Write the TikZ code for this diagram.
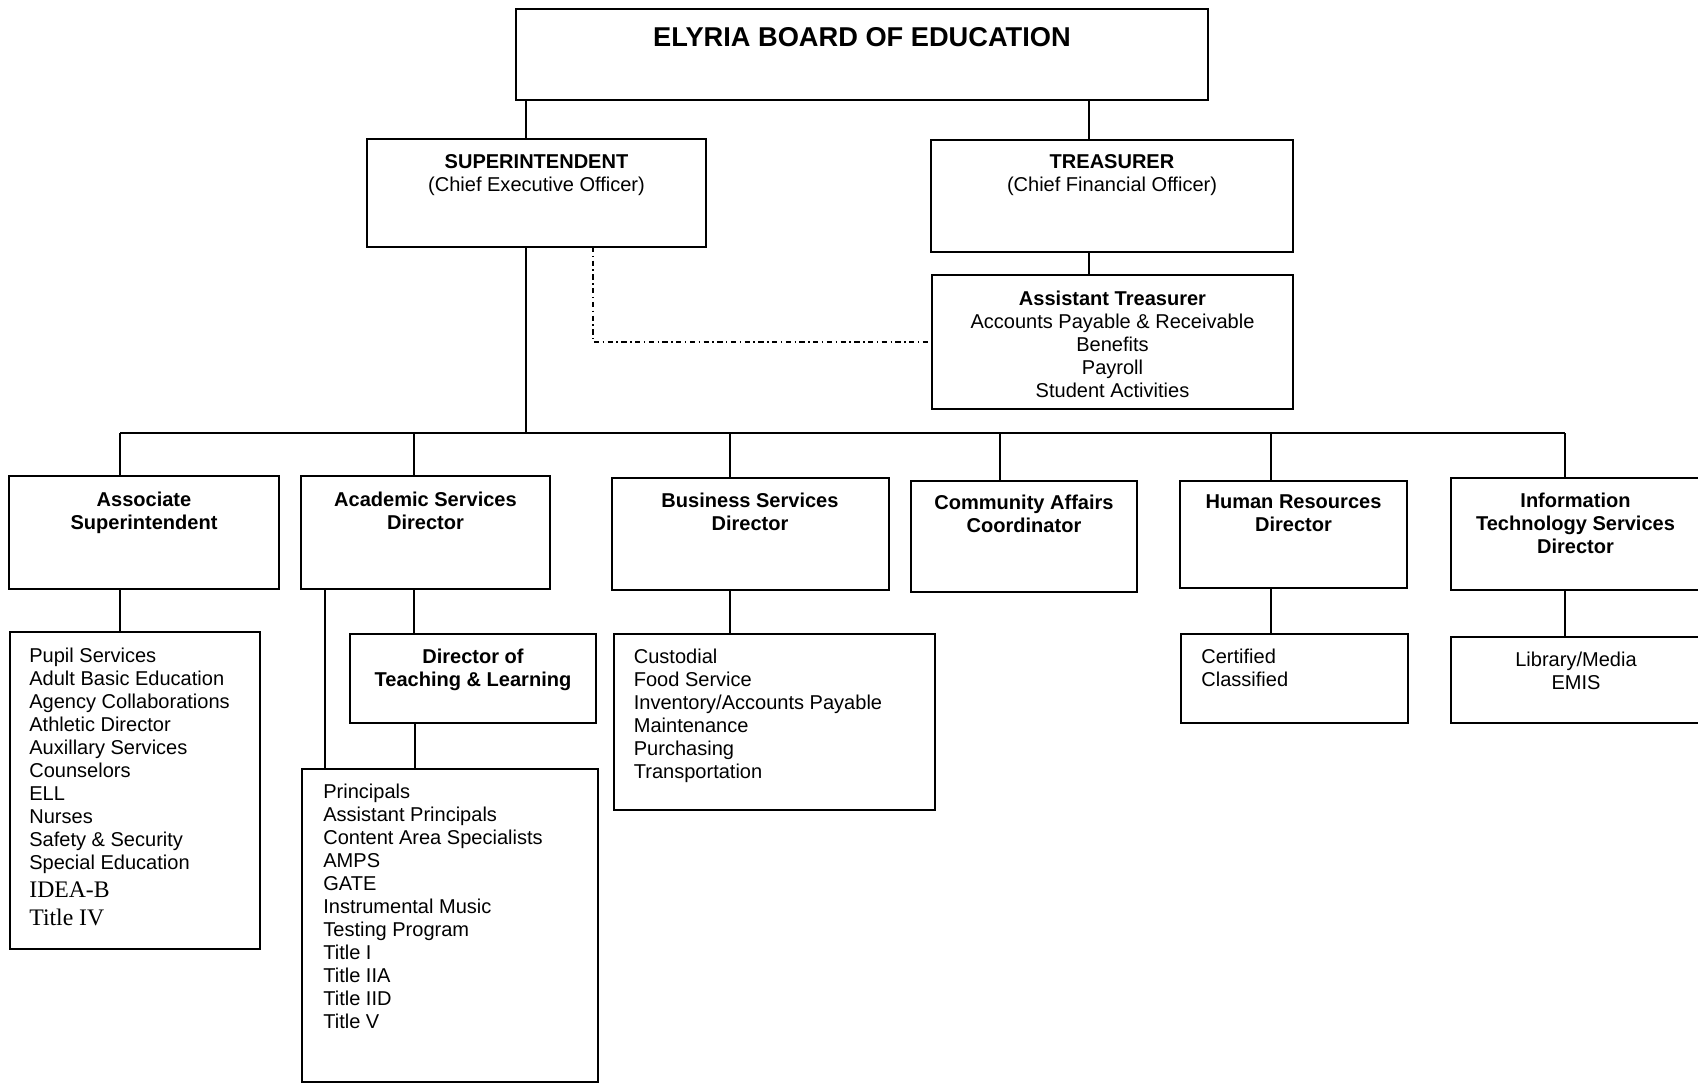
\documentclass[tikz,border=0pt]{standalone}
\usepackage{fontspec}
\setmainfont{Liberation Sans}
\newfontfamily\serifitems{Liberation Serif}
\usepackage{tikz}
\usetikzlibrary{fit,calc}

\tikzset{
  box/.style={draw,line width=1pt,inner sep=0pt,outer sep=0pt},
  head/.style={font=\bfseries\fontsize{11.4}{13.1}\selectfont,align=center,inner sep=0pt,anchor=north},
  plainhead/.style={font=\fontsize{11.4}{13.1}\selectfont,align=center,inner sep=0pt,anchor=north},
  items/.style={font=\fontsize{11.4}{13.1}\selectfont,align=left,inner sep=0pt,anchor=north west},
  link/.style={line width=1pt},
  dotlink/.style={line width=0.8pt,dash pattern=on 3pt off 2pt on 0.8pt off 2pt}
}

\begin{document}
\begin{tikzpicture}[x=0.02cm,y=-0.02cm]
  \useasboundingbox (0,0) rectangle (1698,1083);
  % Board
  \node[box,fit={(516,9) (1208,100)}] (board) {};
  \node[inner sep=0pt,anchor=base,font=\bfseries\fontsize{15.5}{18}\selectfont] (boardT) at (862,46) {ELYRIA BOARD OF EDUCATION};
  % Superintendent and treasurer
  \node[box,fit={(367,139) (706,247)}] (sup) {};
  \node[plainhead] (supT) at (536.5,154.5) {\textbf{SUPERINTENDENT}\\(Chief Executive Officer)};
  \node[box,fit={(931,140) (1293,252)}] (treas) {};
  \node[plainhead] (treasT) at (1112,154.5) {\textbf{TREASURER}\\(Chief Financial Officer)};
  \node[box,fit={(932,275) (1293,409)}] (asst) {};
  \node[plainhead] (asstT) at (1112.5,290.5) {\textbf{Assistant Treasurer}\\Accounts Payable \& Receivable\\Benefits\\Payroll\\Student Activities};
  % Directors
  \node[box,fit={(9,476) (279,589)}] (assoc) {};
  \node[head] (assocT) at (144,491.5) {Associate\\Superintendent};
  \node[box,fit={(301,476) (550,589)}] (acad) {};
  \node[head] (acadT) at (425.5,491.5) {Academic Services\\Director};
  \node[box,fit={(612,478) (889,590)}] (biz) {};
  \node[head] (bizT) at (750,492.5) {Business Services\\Director};
  \node[box,fit={(911,481) (1137,592)}] (comm) {};
  \node[head] (commT) at (1024,494.5) {Community Affairs\\Coordinator};
  \node[box,fit={(1180,481) (1407,588)}] (hr) {};
  \node[head] (hrT) at (1293.5,494.5) {Human Resources\\Director};
  \node[box,fit={(1451,478) (1700,590)}] (it) {};
  \node[head] (itT) at (1575.5,492.5) {Information\\Technology Services\\Director};
  % Lower boxes
  \node[box,fit={(10,632) (260,949)}] (assocL) {};
  \node[items] (assocI) at (29,647.5) {Pupil Services\\Adult Basic Education\\Agency Collaborations\\Athletic Director\\Auxillary Services\\Counselors\\ELL\\Nurses\\Safety \& Security\\Special Education};
  \node[items,font=\serifitems\fontsize{13.5}{16}\selectfont] (assocS) at (29,881) {IDEA-B\\Title IV};
  \node[box,fit={(350,634) (596,723)}] (dtl) {};
  \node[head] (dtlT) at (473,648.5) {Director of\\Teaching \& Learning};
  \node[box,fit={(302,769) (598,1082)}] (princ) {};
  \node[items] (princI) at (323,783.5) {Principals\\Assistant Principals\\Content Area Specialists\\AMPS\\GATE\\Instrumental Music\\Testing Program\\Title I\\Title IIA\\Title IID\\Title V};
  \node[box,fit={(614,634) (935,810)}] (bizL) {};
  \node[items] (bizI) at (633.5,648.5) {Custodial\\Food Service\\Inventory/Accounts Payable\\Maintenance\\Purchasing\\Transportation};
  \node[box,fit={(1181,634) (1408,723)}] (hrL) {};
  \node[items] (hrI) at (1201,648.5) {Certified\\Classified};
  \node[box,fit={(1451,637) (1700,723)}] (itL) {};
  \node[plainhead] (itI) at (1576,651.5) {Library/Media\\EMIS};
  % Connectors
  \coordinate (bus) at (526,433);
  \draw[link] (board.south -| 526,0) -- (sup.north -| 526,0);
  \draw[link] (board.south -| 1089,0) -- (treas.north -| 1089,0);
  \draw[link] (treas.south -| 1089,0) -- (asst.north -| 1089,0);
  \draw[dotlink] (sup.south -| 593,0) |- (asst.west);
  \draw[link] (sup.south -| bus) -- (bus);
  \draw[link] (120,0 |- bus) -- (1565,0 |- bus);
  \draw[link] (120,0 |- bus) -- (assoc.north -| 120,0);
  \draw[link] (414,0 |- bus) -- (acad.north -| 414,0);
  \draw[link] (730,0 |- bus) -- (biz.north -| 730,0);
  \draw[link] (1000,0 |- bus) -- (comm.north -| 1000,0);
  \draw[link] (1271,0 |- bus) -- (hr.north -| 1271,0);
  \draw[link] (1565,0 |- bus) -- (it.north -| 1565,0);
  \draw[link] (assoc.south -| 120,0) -- (assocL.north -| 120,0);
  \draw[link] (acad.south -| 325,0) -- (princ.north -| 325,0);
  \draw[link] (acad.south -| 414,0) -- (dtl.north -| 414,0);
  \draw[link] (dtl.south -| 415,0) -- (princ.north -| 415,0);
  \draw[link] (biz.south -| 730,0) -- (bizL.north -| 730,0);
  \draw[link] (hr.south -| 1271,0) -- (hrL.north -| 1271,0);
  \draw[link] (it.south -| 1565,0) -- (itL.north -| 1565,0);
\end{tikzpicture}
\end{document}
